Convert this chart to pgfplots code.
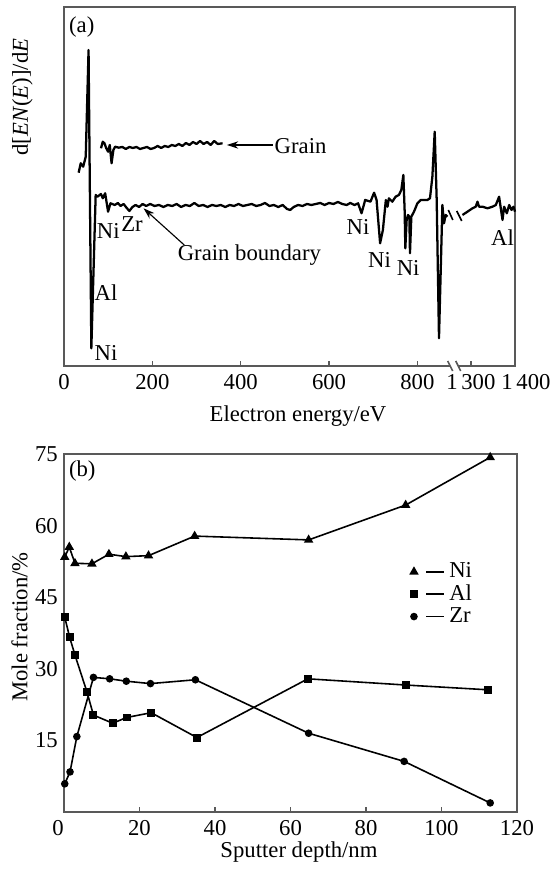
\documentclass[border=0pt]{standalone}
\usepackage{fontspec}
\setmainfont{Liberation Serif}
\usepackage{pgfplots}
\pgfplotsset{compat=1.18}
\usepackage{pgfplotstable}
\usetikzlibrary{arrows.meta}

% ---------- (a) AES spectra, x in eV (first segment), y in arbitrary units ----------
\pgfplotstableread{
E y
33.1 193.3
37.9 202.7
43.5 199.3
49.2 209.3
55.6 316
61.9 17.7
71.7 171
75.7 169.3
83.7 172
87.8 167.7
93.2 172.7
99.8 154.3
105.2 162.7
115 161
122 163
128 160
135 162
142 158
148 155
155 159
162 161
170 159
178 162
186 160
195 162
205 160
215 161
225 159
235 161
245 160
255 162
265 159
275 161
285 160
295 163
305 160
315 161
325 159
335 161
345 160
355 161
365 159
375 161
385 160
395 162
405 160
415 161
425 162
435 160
445 161
455 163
465 160
475 161
485 159
495 161
505 157
512 156
520 159
530 161
540 160
550 162
560 161
570 162
580 163
590 161
600 163
610 162
620 164
630 162
640 161
648 163
657.7 161
665.7 162.7
673.6 152.7
681.8 166
693.8 164.3
702 173.3
707.6 166
715.6 122.7
721.9 136
728.6 166
732.4 159.3
735.5 167.7
743.2 164.3
750.7 169.3
758.2 171
763.6 176
768.2 191
771.1 156
772.7 117.7
775.7 146
778.7 151
781.8 149.3
783.2 112.7
786.3 149.3
792.3 154.3
800 162.7
807.4 166
822.6 166
828.5 167.7
833.9 189.3
839.2 234.3
843.7 166
848.9 27.7
856.6 161
860.2 142.7
864.1 151
867.9 149.3
}\gbA

% second segment after the axis break, real energies in eV
\pgfplotstableread{
E y
1281 151
1292.3 154.3
1303.7 157.7
1311.2 159.3
1315 164.3
1318.6 159.3
1326.4 159.3
1337.7 157.7
1349 159.3
1356.5 161
1364 169.3
1367.8 157.7
1371.7 146
1375.3 159.3
1381.5 152.7
1386.8 161
1392.1 156
1396.6 159.3
1400 154.3
}\gbB

\pgfplotstableread{
E y
83.7 217.7
87.8 224.3
91.6 222.7
95.7 217.7
99.8 214.3
103.6 221
107.7 202.7
111.8 216
115.7 219.3
123.8 218.3
132 219
140 217
148 219
156 218
164 219
172 217
180 218
188 219
196 217
204 218
212 220
220 218
228 220
236 219
244 221
252 220
260 222
268 220
276 223
284 221
292 224
300 222
308 225
316 222
324 224
332 221
340 225
348 222
359 222.7
}\grain

% ---------- (b) depth profiles ----------
\pgfplotstableread{
d v
0.2 53.4
1.4 55.5
2.9 52.1
7.4 52.0
11.9 54.0
16.4 53.5
22.4 53.7
34.6 57.8
64.8 57.0
90.5 64.3
112.9 74.3
}\Ni
\pgfplotstableread{
d v
0.2 40.8
1.5 36.6
2.9 32.9
6.1 25.1
7.8 20.3
12.9 18.6
16.6 19.8
23.1 20.8
35.2 15.6
64.6 27.9
90.5 26.6
112.3 25.6
}\Al
\pgfplotstableread{
d v
0.2 5.9
1.6 8.4
3.4 15.8
7.8 28.2
12.1 27.9
16.5 27.4
22.9 26.9
34.8 27.7
64.8 16.5
90.1 10.6
112.9 1.9
}\Zr

\begin{document}
\begin{tikzpicture}
\path[use as bounding box] (0,0) rectangle (244.48pt,382.79pt);

\pgfplotsset{
  every axis/.append style={
    scale only axis, anchor=south west, clip=false,
    tick align=inside, major tick length=2pt,
    axis line style={black!65, line width=0.7pt},
    every tick/.style={black!65, line width=0.6pt},
    /pgf/number format/assume math mode=true,
    tick label style={font=\normalsize},
  }
}

% ================= (a) =================
\begin{axis}[
  at={(28.19pt,221.57pt)},
  width=198.67pt, height=158.14pt,
  xmin=0, xmax=1021, ymin=0, ymax=359,
  ytick=\empty,
  xtick={0,200,400,600,800,921},
  xticklabels={0,200,400,600,800,1\,300},
  extra x ticks={1021},
  extra x tick labels={1\,400},
  extra x tick style={xticklabel style={xshift=4.8pt}},
  xtick pos=bottom,
]
\addplot[black, line width=1pt, line join=round, mark=none] table[x=E,y=y] {\gbA};
\addplot[black, line width=1pt, line join=round, mark=none] table[x expr=\thisrow{E}-379, y=y] {\gbB};
\addplot[black, line width=1pt, line join=round, mark=none] table[x=E,y=y] {\grain};
% break marks on the curve
\addplot[black, line width=0.7pt, mark=none] coordinates {(870.0,156) (880.2,146)};
\addplot[black, line width=0.7pt, mark=none] coordinates {(889.1,155) (900.4,145)};
% break on the axis
\fill[white] (axis cs:874,-2) rectangle (axis cs:893,2);
\draw[black!65, line width=0.7pt] (axis cs:868.6,5) -- (axis cs:880,-5);
\draw[black!65, line width=0.7pt] (axis cs:886.8,5) -- (axis cs:898.1,-5);

\node at (axis cs:40.1,339.3) {(a)};
\node at (axis cs:100.3,135) {Ni};
\node at (axis cs:154,142) {Zr};
\node at (axis cs:95.3,73) {Al};
\node at (axis cs:95.3,13) {Ni};
\node at (axis cs:665.7,139) {Ni};
\node at (axis cs:714.4,106) {Ni};
\node at (axis cs:779,98.5) {Ni};
\node at (axis cs:992.7,128.5) {Al};
\node at (axis cs:419.6,111) {Grain boundary};
\node[anchor=west, inner sep=0pt] at (axis cs:476,220) {Grain};
\draw[-{Stealth[length=5pt,width=3.2pt]}, line width=0.5pt] (axis cs:473,221) -- (axis cs:368.7,221);
\draw[-{Stealth[length=5pt,width=3.2pt]}, line width=0.5pt] (axis cs:272.2,121) -- (axis cs:180,157.7);
\end{axis}

% ================= (b) =================
\begin{axis}[
  at={(28.19pt,25.11pt)},
  width=199.55pt, height=157.70pt,
  xmin=0, xmax=120, ymin=0, ymax=75,
  xtick={20,40,60,80,100,120},
  extra x ticks={0},
  extra x tick style={xticklabel style={xshift=-2.6pt}},
  ytick={15,30,45,60,75},
  xtick pos=bottom, ytick pos=left,
  ytick style={draw=none},
  yticklabel style={xshift=0.8pt},
  legend image code/.code={
    \draw[#1, only marks] plot coordinates {(0pt,0pt)};
    \draw[#1, mark=none] (5.3pt,0pt) -- (13.2pt,0pt);
  },
  legend style={at={(axis cs:91.7,53.3)}, anchor=north west, draw=none, fill=none,
    inner sep=0pt, row sep=-2.4pt, font=\normalsize},
  legend cell align=left,
]
\addplot[black, line width=0.7pt, mark=triangle*, mark size=1.7pt] table[x=d,y=v] {\Ni};
\addlegendentry{Ni}
\addplot[black, line width=0.7pt, mark=square*, mark size=1.4pt] table[x=d,y=v] {\Al};
\addlegendentry{Al}
\addplot[black, line width=0.7pt, mark=*, mark size=1.3pt] table[x=d,y=v] {\Zr};
\addlegendentry{Zr}
\node at (axis cs:4.85,71.4) {(b)};
\end{axis}

% axis labels
\node[rotate=90] at (9.9pt,340.0pt) {d[\textit{EN}(\textit{E})]/d\textit{E}};
\node at (131.27pt,199.55pt) {Electron energy/eV};
\node[rotate=90] at (8.6pt,106.6pt) {Mole fraction/\%};
\node at (131.7pt,7.5pt) {Sputter depth/nm};
\end{tikzpicture}
\end{document}
